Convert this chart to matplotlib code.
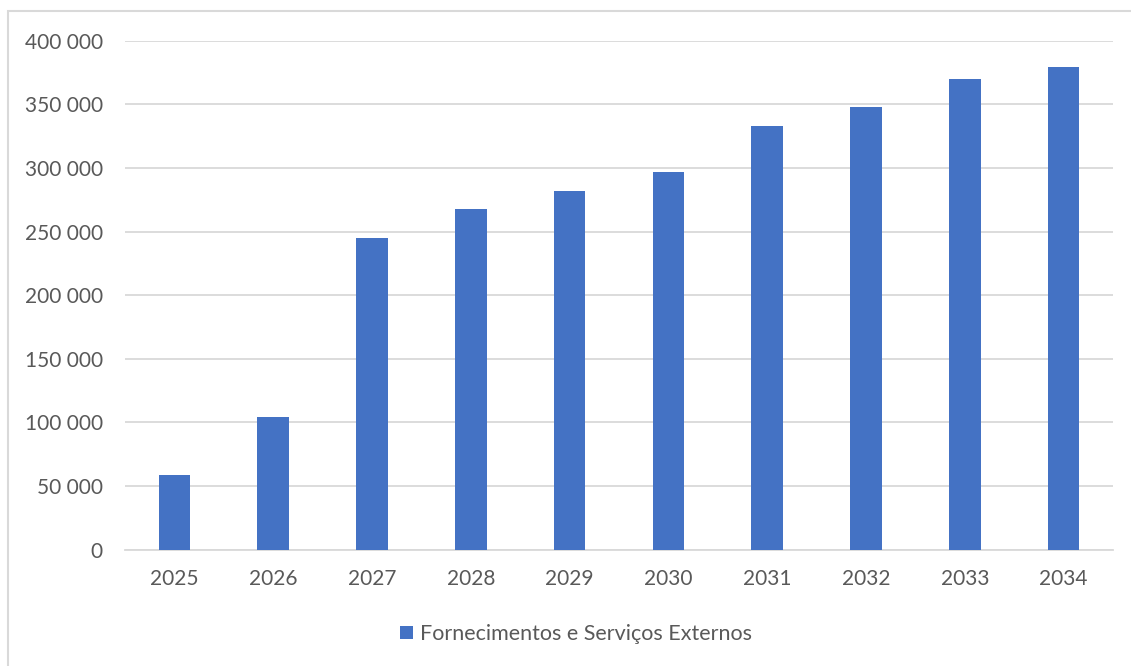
import matplotlib
matplotlib.use("Agg")
import matplotlib.pyplot as plt
from matplotlib.patches import Rectangle
from matplotlib.ticker import FuncFormatter

years = ["2025", "2026", "2027", "2028", "2029", "2030", "2031", "2032", "2033", "2034"]
values = [59000, 104000, 245000, 268000, 282000, 297000, 333000, 348000, 370000, 379000]
series_name = "Fornecimentos e Serviços Externos"
yticks = [0, 50000, 100000, 150000, 200000, 250000, 300000, 350000, 400000]

plt.rcParams['font.family'] = ['Lato', 'DejaVu Sans']

W, H = 1131, 666
fig = plt.figure(figsize=(W / 100, H / 100), dpi=100)
ax = fig.add_axes([125 / W, 1 - 549.7 / H, (1113 - 125) / W, (549.7 - 40.7) / H])

x = list(range(len(years)))
ax.bar(x, values, width=0.32, color="#4472C4", label=series_name, zorder=3)
ax.set_xlim(-0.5, len(years) - 0.5)
ax.set_ylim(0, 400000)
ax.set_yticks(yticks)
ax.yaxis.set_major_formatter(FuncFormatter(lambda v, p: f"{int(v):,}".replace(",", " ")))
ax.set_xticks(x)
ax.set_xticklabels(years)
ax.grid(axis="y", color="#d9d9d9", linewidth=1.3, zorder=0)
for s in ["top", "right", "left"]:
    ax.spines[s].set_visible(False)
ax.spines["bottom"].set_color("#d9d9d9")
ax.spines["bottom"].set_linewidth(1.3)
ax.tick_params(axis="both", length=0, labelsize=15, colors="#595959")
ax.tick_params(axis="y", pad=16)
ax.tick_params(axis="x", pad=14)

leg = fig.legend(loc="center", bbox_to_anchor=(576 / W, 1 - 634 / H), frameon=False,
                 fontsize=15.5, handlelength=0.6, handleheight=0.6, handletextpad=0.3)
for t in leg.get_texts():
    t.set_color("#595959")

fig.patches.append(Rectangle((8 / W, -0.1), 1.2, 1 - 11 / H + 0.1, transform=fig.transFigure,
                             fill=False, edgecolor="#d9d9d9", linewidth=1.5, zorder=-1))

fig.savefig("out.png", dpi=100)
